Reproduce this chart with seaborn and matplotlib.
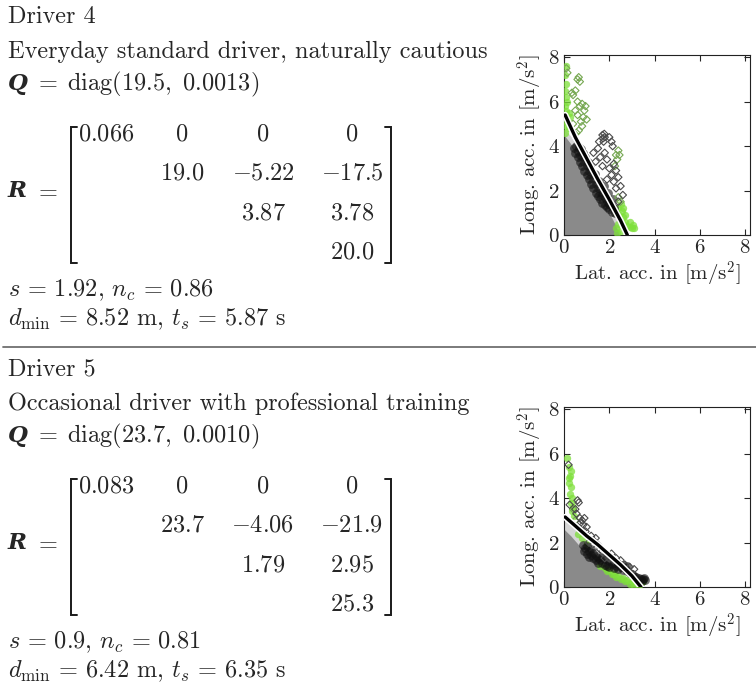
import numpy as np
import matplotlib
matplotlib.use("Agg")
import matplotlib.pyplot as plt
import matplotlib.patheffects as pe
import seaborn as sns

sns.set_style("ticks")
plt.rcParams["font.family"] = ["cmr10", "DejaVu Serif"]
plt.rcParams["mathtext.fontset"] = "cm"
plt.rcParams["axes.formatter.use_mathtext"] = True

# ---------------- driver parameters ----------------
titles = ["Driver 4", "Driver 5"]
descriptions = ["Everyday standard driver, naturally cautious",
                "Occasional driver with professional training"]
q_diag = [("19.5", "0.0013"), ("23.7", "0.0010")]
r_rows_4 = [["0.066", "0", "0", "0"], ["", "19.0", "-5.22", "-17.5"],
            ["", "", "3.87", "3.78"], ["", "", "", "20.0"]]
r_rows_5 = [["0.083", "0", "0", "0"], ["", "23.7", "-4.06", "-21.9"],
            ["", "", "1.79", "2.95"], ["", "", "", "25.3"]]
s_vals = ["1.92", "0.9"]
nc_vals = ["0.86", "0.81"]
dmin_vals = ["8.52", "6.42"]
ts_vals = ["5.87", "6.35"]

# ---------------- driver 4 measurements ----------------
gray4_x = [0, 0.3, 0.6, 0.9, 1.2, 1.5, 1.8, 2.1, 2.3, 2.45]
gray4_y = [4.5, 4.1, 3.5, 2.9, 2.3, 1.75, 1.25, 0.8, 0.4, 0.0]
fringe4_y = [4.8, 4.45, 3.95, 3.35, 2.75, 2.2, 1.7, 1.2, 0.8, 0.4]

black4_x = [0.45, 0.5, 0.55, 0.6, 0.6, 0.65, 0.7, 0.7, 0.75, 0.8, 0.8, 0.85,
            0.9, 0.9, 0.95, 1.0, 1.0, 1.05, 1.1, 1.1, 1.15, 1.2, 1.2, 1.3,
            1.3, 1.35, 1.4, 1.4, 1.5, 1.5, 1.55, 1.6, 1.6, 1.7, 1.7, 1.75,
            1.8, 1.8, 1.9, 1.9, 1.95, 2.0, 2.0, 2.1, 2.1, 2.15, 2.2, 2.25]
black4_y = [3.9, 3.7, 4.0, 3.8, 3.5, 3.95, 3.6, 3.3, 3.85, 3.5, 3.1, 3.7,
            3.3, 2.9, 3.5, 3.1, 2.7, 3.3, 2.9, 2.5, 3.05, 2.7, 2.3, 2.5,
            2.1, 2.75, 2.3, 1.9, 2.1, 1.75, 2.45, 1.95, 1.6, 1.8, 1.45, 2.2,
            1.65, 1.35, 1.5, 1.25, 1.9, 1.4, 1.15, 1.3, 1.05, 1.6, 1.2, 1.0]

bdia4_x = [1.7, 1.8, 1.75, 2.0, 2.1, 2.15, 1.55, 1.5, 1.8, 1.6, 1.9, 2.2, 2.3,
           1.7, 2.0, 2.4, 2.2, 2.3, 1.9, 2.5, 2.1, 2.6, 2.4, 1.4, 1.3, 1.72,
           1.78]
bdia4_y = [4.5, 4.4, 4.2, 4.4, 4.2, 4.0, 4.2, 3.9, 3.7, 3.5, 3.4, 3.2, 2.9,
           3.1, 3.0, 2.6, 2.4, 2.1, 2.5, 2.2, 2.7, 1.8, 1.5, 3.3, 3.7, 4.35,
           4.55]

green4_x = [0.05, 0.1, 0.05, 0.1, 0.15, 0.05, 0.1, 0.2, 0.05, 0.15, 0.1, 0.2,
            0.05, 0.25, 0.1,
            2.3, 2.4, 2.5, 2.45, 2.6, 2.55, 2.7, 2.8, 2.9, 3.0, 3.1, 2.4,
            2.3, 2.5, 2.6, 2.35, 2.7, 2.6, 2.9, 3.05]
green4_y = [7.2, 6.8, 6.5, 6.2, 6.0, 5.8, 5.6, 5.5, 5.3, 5.1, 4.9, 4.8,
            4.6, 5.3, 7.6,
            1.0, 1.2, 1.4, 0.9, 0.8, 1.1, 0.6, 0.4, 0.35, 0.3, 0.3, 0.5,
            0.3, 0.2, 0.5, 0.1, 0.9, 1.2, 0.6, 0.45]

gdia4_x = [0.1, 0.15, 0.35, 0.4, 0.5, 0.6, 0.65, 0.7, 0.6, 0.7, 0.8, 0.9,
           0.95, 0.5, 0.6, 0.75, 0.8, 0.65, 0.55, 1.0, 0.85, 0.4, 2.4, 2.35,
           2.3, 2.25, 2.45, 2.5, 2.4]
gdia4_y = [7.5, 7.3, 6.4, 6.3, 6.5, 7.0, 7.1, 6.9, 6.0, 5.8, 5.9, 5.6,
           5.8, 5.6, 5.4, 5.1, 4.9, 4.7, 4.6, 5.2, 5.3, 5.0, 3.8, 3.4,
           3.6, 3.1, 3.6, 1.5, 1.7]

curve4_x = [0.05, 0.5, 1.0, 1.5, 2.0, 2.5, 2.8]
curve4_y = [5.4, 4.4, 3.45, 2.5, 1.6, 0.65, 0.0]

# ---------------- driver 5 measurements ----------------
gray5_x = [0, 0.3, 0.6, 0.9, 1.2, 1.5, 1.8, 2.1, 2.4, 2.7, 3.0, 3.3]
gray5_y = [2.6, 2.3, 1.95, 1.6, 1.3, 1.05, 0.8, 0.6, 0.42, 0.28, 0.12, 0.0]
fringe5_y = [3.0, 2.8, 2.5, 2.2, 1.85, 1.5, 1.2, 0.95, 0.7, 0.5, 0.3, 0.1]

black5_x = [0.85, 0.9, 0.95, 1.0, 1.0, 1.1, 1.1, 1.2, 1.2, 1.3, 1.3, 1.4,
            1.4, 1.5, 1.5, 1.6, 1.7, 1.7, 1.8, 1.8, 1.9, 2.0, 2.0, 2.1,
            2.2, 2.2, 2.3, 2.4, 2.4, 2.5, 2.6, 2.6, 2.7, 2.8, 2.8, 2.9,
            3.0, 3.1, 3.2, 3.3, 3.4, 3.5, 3.6, 3.55, 3.45]
black5_y = [1.9, 1.6, 1.75, 1.5, 1.85, 1.6, 1.35, 1.7, 1.45, 1.3, 1.55, 1.4,
            1.2, 1.3, 1.1, 1.2, 1.1, 1.35, 1.0, 1.25, 0.95, 1.15, 0.9, 1.05,
            0.85, 1.1, 0.95, 0.8, 1.05, 0.9, 0.75, 1.0, 0.85, 0.7, 0.95, 0.65,
            0.6, 0.5, 0.45, 0.4, 0.38, 0.35, 0.33, 0.42, 0.28]

bdia5_x = [0.2, 0.25, 0.5, 0.6, 0.65, 0.55, 0.7, 0.8, 0.85, 0.9, 0.75, 1.0,
           0.95, 1.2, 1.3, 1.4, 1.5, 1.6, 1.7, 2.0, 2.1, 2.2, 2.4, 2.7, 2.9,
           3.1, 1.1, 1.25, 1.8, 2.5, 2.3]
bdia5_y = [5.5, 3.7, 3.5, 3.9, 3.8, 3.3, 3.1, 3.0, 2.8, 3.1, 2.9, 2.7,
           2.5, 2.3, 2.1, 2.2, 1.9, 1.7, 1.6, 1.3, 1.5, 1.2, 1.1, 1.0, 0.9,
           0.8, 2.0, 1.9, 1.3, 1.2, 1.3]

green5_x = [0.15, 0.2, 0.25, 0.2, 0.3, 0.25, 0.35, 0.3, 0.4, 0.35, 0.45, 0.2,
            0.3, 0.6, 0.8, 1.0, 1.6, 1.8, 2.0, 2.2, 2.4, 2.6, 2.8, 3.0, 3.2,
            3.4, 3.5, 1.9, 2.1, 2.3, 2.5, 2.7, 2.9, 3.1, 3.3]
green5_y = [5.8, 5.4, 5.0, 4.7, 4.5, 4.2, 4.0, 3.8, 3.6, 3.4, 3.2, 4.9,
            5.2, 2.4, 2.2, 2.0, 0.95, 0.85, 0.75, 0.6, 0.5, 0.4, 0.3, 0.25,
            0.2, 0.2, 0.25, 0.7, 0.6, 0.45, 0.35, 0.25, 0.15, 0.1, 0.1]

gdia5_x = [0.4, 0.5]
gdia5_y = [3.5, 3.0]

curve5_x = [0.05, 0.5, 1.0, 1.5, 2.0, 2.5, 3.0, 3.4]
curve5_y = [3.15, 2.75, 2.3, 1.9, 1.45, 1.0, 0.5, 0.0]

ticks = [0, 2, 4, 6, 8]
xlab = r"Lat. acc. in [m/s$^2$]"
ylab = r"Long. acc. in [m/s$^2$]"

plot_data = [
    dict(gx=gray4_x, gy=gray4_y, fy=fringe4_y, bx=black4_x, by=black4_y,
         dx=bdia4_x, dy=bdia4_y, grx=green4_x, gry=green4_y,
         gdx=gdia4_x, gdy=gdia4_y, cx=curve4_x, cy=curve4_y),
    dict(gx=gray5_x, gy=gray5_y, fy=fringe5_y, bx=black5_x, by=black5_y,
         dx=bdia5_x, dy=bdia5_y, grx=green5_x, gry=green5_y,
         gdx=gdia5_x, gdy=gdia5_y, cx=curve5_x, cy=curve5_y),
]
matrices = [r_rows_4, r_rows_5]

W, H = 756, 697
fig = plt.figure(figsize=(W / 100, H / 100), dpi=100)
page = fig.add_axes([0, 0, 1, 1])
page.set_xlim(0, W)
page.set_ylim(H, 0)
page.axis("off")

FS = 17.5
col_centers = [106, 182, 263, 352]
row_step = 39.3
block = 352

def bold_sym(x, y, ch):
    page.text(x, y, ch, fontsize=FS - 1, family="DejaVu Serif",
              weight="bold", style="italic", va="baseline", ha="left")

def mtext(x, y, s, ha="left"):
    page.text(x, y, s, fontsize=FS, va="baseline", ha=ha)

for i in range(2):
    o = i * block
    mtext(8, 23 + o, titles[i])
    mtext(8, 58 + o, descriptions[i])
    bold_sym(8, 90 + o, "Q")
    mtext(34, 90 + o, r"$=\;\mathrm{diag}(%s,\ %s)$" % q_diag[i])
    bold_sym(8, 197 + o, "R")
    mtext(34, 197 + o, r"$=$")
    # matrix entries
    for r, row in enumerate(matrices[i]):
        for c, val in enumerate(row):
            if val:
                mtext(col_centers[c], 140.5 + r * row_step + o,
                      r"$%s$" % val, ha="center")
    # brackets
    top, bot = 127 + o, 263 + o
    page.plot([77, 71, 71, 77], [top, top, bot, bot], color="#1a1a1a",
              lw=1.4, solid_joinstyle="miter")
    page.plot([385, 391, 391, 385], [top, top, bot, bot], color="#1a1a1a",
              lw=1.4, solid_joinstyle="miter")
    mtext(8, 296 + o, r"$s\,=\,%s$, $n_c\,=\,%s$" % (s_vals[i], nc_vals[i]))
    mtext(8, 325 + o, r"$d_{\mathrm{min}}\,=\,%s$ m, $t_s\,=\,%s$ s"
          % (dmin_vals[i], ts_vals[i]))

page.plot([3, W], [347, 347], color="#707070", lw=1.3)

# ---------------- acceleration plots ----------------
ax_top = [55, 407]
for i, d in enumerate(plot_data):
    t = ax_top[i]
    ax = fig.add_axes([564 / W, 1 - (t + 180) / H, 186 / W, 180 / H])
    ax.fill_between(d["gx"], 0, d["fy"], color="#d4d4d4", lw=0, zorder=1)
    ax.fill_between(d["gx"], 0, d["gy"], color="#8a8a8a", lw=0, zorder=2)
    sns.scatterplot(x=d["grx"], y=d["gry"], ax=ax, color="#7ee03a",
                    marker="o", s=28, alpha=0.75, linewidth=0, zorder=3,
                    legend=False)
    sns.scatterplot(x=d["bx"], y=d["by"], ax=ax, color="#111111",
                    marker="o", s=40, alpha=0.6, linewidth=0, zorder=4,
                    legend=False)
    sns.scatterplot(x=d["gdx"], y=d["gdy"], ax=ax, marker="D", s=14,
                    facecolor="none", edgecolor="#76a852", linewidth=0.8,
                    zorder=5, legend=False)
    sns.scatterplot(x=d["dx"], y=d["dy"], ax=ax, marker="D", s=14,
                    facecolor="none", edgecolor="#4a4a4a", linewidth=0.8,
                    zorder=5, legend=False)
    sns.lineplot(x=d["cx"], y=d["cy"], ax=ax, sort=False, color="black",
                 lw=2.4, zorder=6,
                 path_effects=[pe.Stroke(linewidth=4.6, foreground="white"),
                               pe.Normal()])
    ax.set_xlim(0, 8.22)
    ax.set_ylim(0, 8.1)
    ax.set_xticks(ticks)
    ax.set_yticks(ticks)
    ax.tick_params(direction="in", top=True, right=True, length=4,
                   width=0.8, labelsize=15, pad=3)
    for sp in ax.spines.values():
        sp.set_linewidth(0.8)
        sp.set_color("#222222")
    ax.set_xlabel(xlab, fontsize=15, labelpad=2)
    ax.set_ylabel(ylab, fontsize=15, labelpad=2)

fig.savefig("out.png", dpi=100)
